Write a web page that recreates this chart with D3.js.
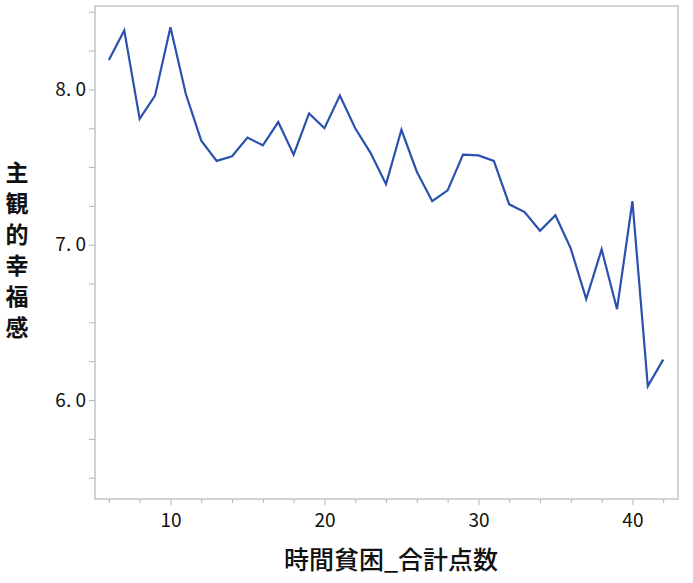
<!DOCTYPE html>
<html>
<head>
<meta charset="utf-8">
<script src="https://cdn.jsdelivr.net/npm/d3@7"></script>
<style>
  body { margin: 0; background: #fff; }
  svg { display: block; }
</style>
</head>
<body>
<div id="chart"></div>
<script>
// data
const scores = [6, 7, 8, 9, 10, 11, 12, 13, 14, 15, 16, 17, 18, 19, 20, 21, 22, 23, 24,
  25, 26, 27, 28, 29, 30, 31, 32, 33, 34, 35, 36, 37, 38, 39, 40, 41, 42];
const happiness = [8.19, 8.38, 7.81, 7.96, 8.40, 7.97, 7.67, 7.54, 7.57, 7.69, 7.64, 7.79, 7.58,
  7.845, 7.75, 7.96, 7.75, 7.59, 7.39, 7.74, 7.47, 7.28, 7.35, 7.58, 7.575, 7.54, 7.26, 7.21,
  7.09, 7.19, 6.975, 6.65, 6.97, 6.585, 7.28, 6.09, 6.26];
const xTicks = [10, 20, 30, 40];
const yTicks = [6.0, 7.0, 8.0];
const yTitle = "主観的幸福感";
const xTitle = "時間貧困_合計点数";

const data = scores.map((s, i) => ({x: s, y: happiness[i]}));

const width = 693, height = 583;
const margin = {top: 6, right: 15, bottom: 84, left: 95};
const font = "'Noto Sans CJK JP', 'Noto Sans', sans-serif";

const svg = d3.select("#chart")
  .append("svg")
  .attr("width", width)
  .attr("height", height);

const x = d3.scaleLinear()
  .domain([5.1, 42.96])
  .range([margin.left, width - margin.right]);
const y = d3.scaleLinear()
  .domain([5.363, 8.537])
  .range([height - margin.bottom, margin.top]);

const x0 = margin.left, x1 = width - margin.right;
const y0 = height - margin.bottom, y1 = margin.top;

// minor ticks (every 2 on x, every 0.25 on y)
const xMinor = d3.range(6, 43, 2).filter(v => !xTicks.includes(v));
const yMinor = d3.range(5.5, 8.51, 0.25).filter(v => !yTicks.some(t => Math.abs(t - v) < 1e-6));

const xAxis = svg.append("g")
  .attr("transform", `translate(0,${y0})`)
  .call(d3.axisBottom(x).tickValues(xTicks).tickSize(6).tickFormat(d3.format("d")));
xAxis.select(".domain").remove();
xAxis.selectAll(".tick line").attr("stroke", "#b4b4b4").attr("stroke-width", 1);
xAxis.selectAll(".tick text")
  .attr("font-family", font)
  .attr("font-size", 19)
  .attr("fill", "#111")
  .attr("dy", "1.0em");

svg.append("g")
  .attr("transform", `translate(0,${y0})`)
  .call(d3.axisBottom(x).tickValues(xMinor).tickSize(4).tickFormat(""))
  .call(g => g.select(".domain").remove())
  .selectAll(".tick line").attr("stroke", "#b4b4b4");

const yAxis = svg.append("g")
  .attr("transform", `translate(${x0},0)`)
  .call(d3.axisLeft(y).tickValues(yTicks).tickSize(6).tickFormat(d => d3.format(".1f")(d).replace(".", ". ")));
yAxis.select(".domain").remove();
yAxis.selectAll(".tick line").attr("stroke", "#b4b4b4");
yAxis.selectAll(".tick text")
  .attr("font-family", font)
  .attr("font-size", 19)
  .attr("fill", "#111")
  .attr("x", -9)
  .style("white-space", "pre");

svg.append("g")
  .attr("transform", `translate(${x0},0)`)
  .call(d3.axisLeft(y).tickValues(yMinor).tickSize(6).tickFormat(""))
  .call(g => g.select(".domain").remove())
  .selectAll(".tick line").attr("stroke", "#b4b4b4");

// plot frame
svg.append("rect")
  .attr("x", x0)
  .attr("y", y1)
  .attr("width", x1 - x0)
  .attr("height", y0 - y1)
  .attr("fill", "none")
  .attr("stroke", "#c4c4c4")
  .attr("stroke-width", 1.5);

// the line
const line = d3.line()
  .x(d => x(d.x))
  .y(d => y(d.y));

svg.append("path")
  .datum(data)
  .attr("d", line)
  .attr("fill", "none")
  .attr("stroke", "#2b50ae")
  .attr("stroke-width", 2.2)
  .attr("stroke-linejoin", "miter");

// y title, one character per line
svg.append("text")
  .attr("font-family", font)
  .attr("font-size", 23)
  .attr("font-weight", "bold")
  .attr("fill", "#111")
  .attr("text-anchor", "middle")
  .selectAll("tspan")
  .data(Array.from(yTitle))
  .join("tspan")
  .attr("x", 17)
  .attr("y", (d, i) => 181 + i * 31)
  .text(d => d);

// x title
svg.append("text")
  .attr("x", 391)
  .attr("y", 569)
  .attr("text-anchor", "middle")
  .attr("font-family", font)
  .attr("font-size", 25)
  .attr("font-weight", 500)
  .attr("fill", "#111")
  .text(xTitle);
</script>
</body>
</html>
